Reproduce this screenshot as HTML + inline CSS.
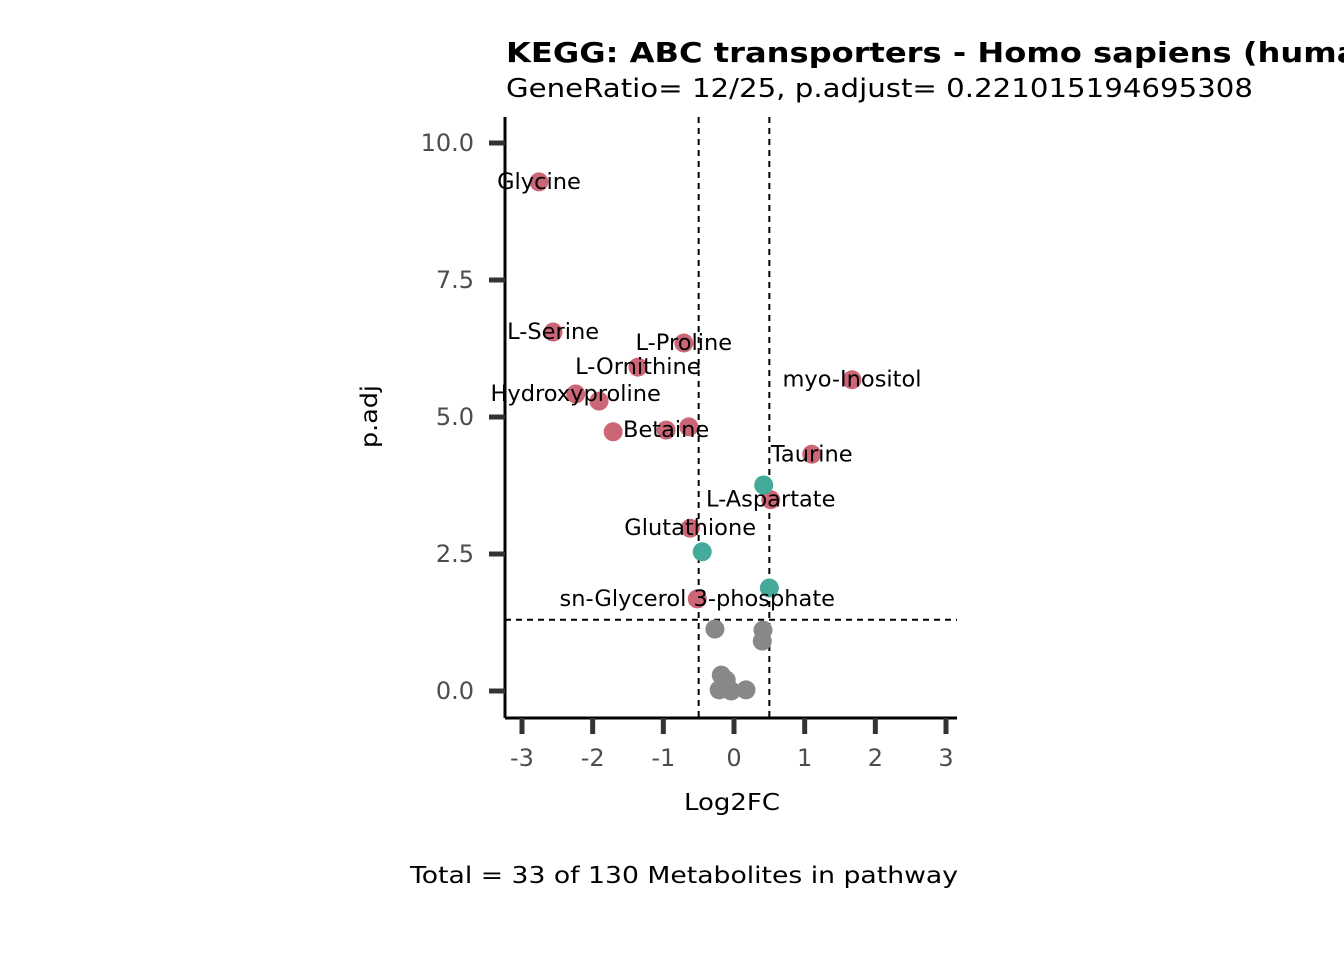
<!DOCTYPE html>
<html><head><meta charset="utf-8"><style>
body{margin:0;background:#fff;width:1344px;height:960px;overflow:hidden}
svg text{font-family:"DejaVu Sans","Liberation Sans",sans-serif}
</style></head><body>
<svg id="chart" width="1344" height="960">
<rect width="1344" height="960" fill="#fff"/>
<text x="506" y="62" style="font-size:28px;font-weight:bold" textLength="890" lengthAdjust="spacingAndGlyphs">KEGG: ABC transporters - Homo sapiens (human)</text>
<text x="506" y="97" style="font-size:26px" textLength="747" lengthAdjust="spacingAndGlyphs">GeneRatio= 12/25, p.adjust= 0.221015194695308</text>
<g id="grid"></g>
<g id="marks"></g>
<g id="labels"></g>
<line x1="505" y1="117" x2="505" y2="718" stroke="#000" stroke-width="3"/>
<line x1="505" y1="718" x2="957" y2="718" stroke="#000" stroke-width="3"/>
<g id="axes"></g>
<text x="684" y="810" style="font-size:23px" textLength="96" lengthAdjust="spacingAndGlyphs">Log2FC</text>
<text transform="translate(377,448) rotate(-90)" style="font-size:23px" textLength="63" lengthAdjust="spacingAndGlyphs">p.adj</text>
<text x="410" y="883" style="font-size:23px" textLength="548" lengthAdjust="spacingAndGlyphs">Total = 33 of 130 Metabolites in pathway</text>
</svg>
<script>
const xVals=[-2.76,-2.56,-0.71,-1.36,1.67,-2.24,-1.91,-1.71,-0.96,-0.64,1.10,0.52,-0.62,-0.52,0.42,-0.45,0.50,-0.27,0.41,0.40,-0.18,-0.11,-0.21,-0.04,0.17];
const yVals=[9.29,6.55,6.35,5.91,5.68,5.42,5.29,4.73,4.76,4.82,4.32,3.49,2.97,1.68,3.76,2.54,1.88,1.13,1.11,0.91,0.29,0.20,0.02,0.00,0.02];
const groups=["up","up","up","up","up","up","up","up","up","up","up","up","up","up","sig","sig","sig","ns","ns","ns","ns","ns","ns","ns","ns"];
const pointLabels=["Glycine","L-Serine","L-Proline","L-Ornithine","myo-Inositol","Hydroxyproline","","","Betaine","","Taurine","L-Aspartate","Glutathione","sn-Glycerol 3-phosphate","","","","","","","","","","",""];
const xTicks=[-3,-2,-1,0,1,2,3];
const yTicks=[0,2.5,5,7.5,10];
const yTickLabels=["0.0","2.5","5.0","7.5","10.0"];
const fcCut=[-0.5,0.5];
const pCut=[1.3];
const colors={up:"#CC6677",sig:"#44AA99",ns:"#888888"};
const X=v=>734+v*70.67, Y=v=>691-v*54.8;
const NS="http://www.w3.org/2000/svg";
function mk(t,a,p){const e=document.createElementNS(NS,t);for(const k in a)e.setAttribute(k,a[k]);document.getElementById(p).appendChild(e);return e;}
fcCut.forEach(v=>{const l=mk('line',{x1:X(v),x2:X(v),y1:117,y2:718,stroke:'#000','stroke-width':2,'stroke-dasharray':'6,5'},'grid');

});
pCut.forEach(v=>{const l=mk('line',{x1:505,x2:957,y1:Y(v),y2:Y(v),stroke:'#000','stroke-width':2,'stroke-dasharray':'6,5'},'grid');

});
xVals.forEach((x,i)=>{const c=mk('circle',{cx:X(x),cy:Y(yVals[i]),r:9.5,fill:colors[groups[i]]},'marks');


if(pointLabels[i]){const t=mk('text',{x:X(x),y:Y(yVals[i])+7,style:'font-size:22.5px','text-anchor':'middle'},'labels');t.textContent=pointLabels[i];

}});
xTicks.forEach(v=>{mk('line',{x1:X(v),x2:X(v),y1:718,y2:734,stroke:'#333','stroke-width':5},'axes');
const t=mk('text',{x:X(v),y:766,style:'font-size:24px','text-anchor':'middle',fill:'#4d4d4d'},'axes');t.textContent=v;

});
yTicks.forEach((v,i)=>{mk('line',{x1:489,x2:505,y1:Y(v),y2:Y(v),stroke:'#333','stroke-width':5},'axes');
const t=mk('text',{x:474,y:Y(v)+8,style:'font-size:24px','text-anchor':'end',fill:'#4d4d4d'},'axes');t.textContent=yTickLabels[i];

});
</script>
</body></html>
